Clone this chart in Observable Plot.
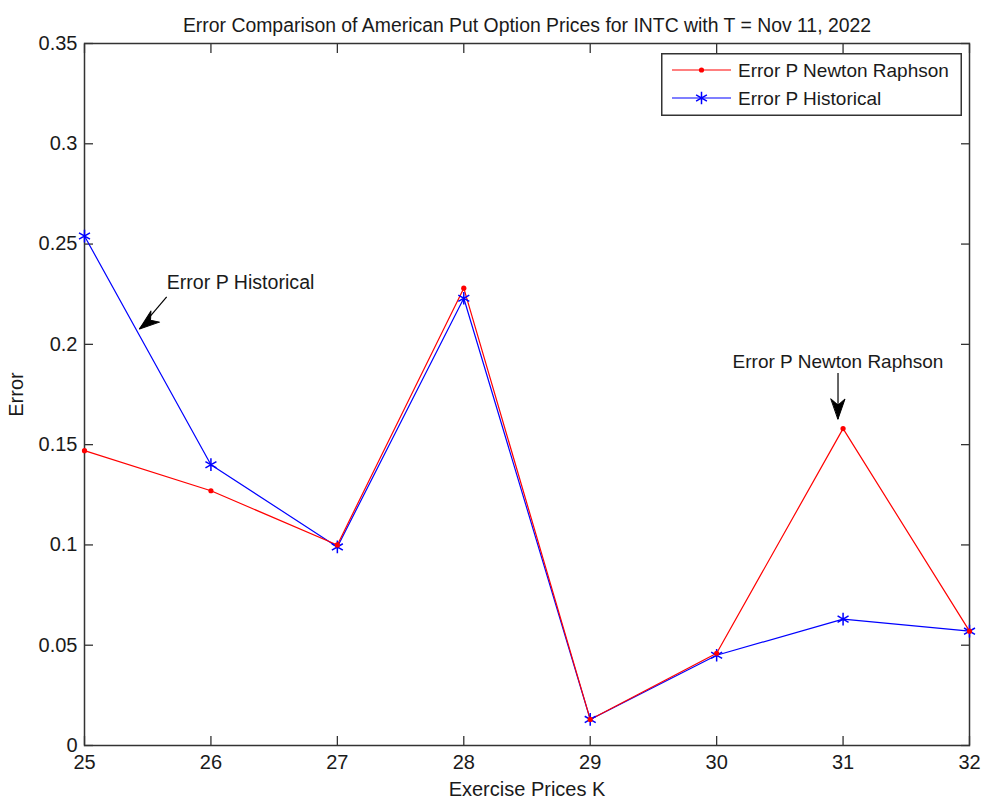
<!DOCTYPE html>
<html><head><meta charset="utf-8">
<script src="https://cdn.jsdelivr.net/npm/d3@7"></script>
<script src="https://cdn.jsdelivr.net/npm/@observablehq/plot@0.6"></script>
<style>
body{margin:0;background:#fff;font-family:"Liberation Sans",Arial,sans-serif;}
#wrap{position:relative;width:981px;height:798px;}
#legend{position:absolute;left:661px;top:53px;}
</style></head><body><div id="wrap"></div>
<script>
const strikes = [25, 26, 27, 28, 29, 30, 31, 32];
const errNewton = [0.147, 0.127, 0.100, 0.228, 0.013, 0.046, 0.158, 0.057];
const errHist = [0.254, 0.140, 0.099, 0.223, 0.013, 0.045, 0.063, 0.057];
const xTicks = [25, 26, 27, 28, 29, 30, 31, 32];
const yTicks = [0, 0.05, 0.1, 0.15, 0.2, 0.25, 0.3, 0.35];
const seriesNames = ["Error P Newton Raphson", "Error P Historical"];
const seriesColors = ["#ff0000", "#0000ff"];
const titleText = "Error Comparison of American Put Option Prices for INTC with T = Nov 11, 2022";
const xLabel = "Exercise Prices K";
const yLabel = "Error";
const annotations = [
  {label: "Error P Historical", tx: 25.65, ty: 0.2307, x1: 25.65, y1: 0.2237, x2: 25.435, y2: 0.2077, rot: 232, anchor: "start"},
  {label: "Error P Newton Raphson", tx: 30.96, ty: 0.1912, x1: 30.96, y1: 0.1857, x2: 30.96, y2: 0.1628, rot: 180, anchor: "middle"}
];

const newton = strikes.map((k, i) => ({k, e: errNewton[i]}));
const hist = strikes.map((k, i) => ({k, e: errHist[i]}));
const fmt = d => String(+d.toFixed(2));

const arrowHead = {
  draw(ctx, l) {
    const w = 7;
    ctx.moveTo(0, -l);
    ctx.lineTo(-w, 0);
    ctx.lineTo(0, -l * 0.3);
    ctx.lineTo(w, 0);
    ctx.closePath();
  }
};

const FS = 18;
const chart = Plot.plot({
  width: 981,
  height: 798,
  marginTop: 43,
  marginBottom: 53,
  marginLeft: 84,
  marginRight: 12,
  style: {fontFamily: '"Liberation Sans", Arial, sans-serif', fontSize: FS + "px", color: "#1a1a1a", background: "white"},
  x: {domain: [25, 32], ticks: xTicks},
  y: {domain: [0, 0.35], ticks: yTicks},
  marks: [
    Plot.frame({stroke: "#333", strokeWidth: 1.5}),
    Plot.axisX({anchor: "bottom", ticks: xTicks, tickSize: -9, tickPadding: 18, tickFormat: fmt, stroke: "#333", strokeWidth: 1.3,
      label: xLabel, labelAnchor: "center", labelArrow: "none", labelOffset: 50, fontSize: 20}),
    Plot.axisX({anchor: "top", ticks: xTicks, tickSize: -9, tickFormat: () => "", stroke: "#333", strokeWidth: 1.3, label: null}),
    Plot.axisY({anchor: "left", ticks: yTicks, tickSize: -9, tickPadding: 16, tickFormat: fmt, stroke: "#333", strokeWidth: 1.3,
      label: yLabel, labelAnchor: "center", labelArrow: "none", labelOffset: 76, fontSize: 20}),
    Plot.axisY({anchor: "right", ticks: yTicks, tickSize: -9, tickFormat: () => "", stroke: "#333", strokeWidth: 1.3, label: null}),
    Plot.line(hist, {x: "k", y: "e", stroke: seriesColors[1], strokeWidth: 1.2}),
    Plot.line(newton, {x: "k", y: "e", stroke: seriesColors[0], strokeWidth: 1.2}),
    Plot.dot(hist, {x: "k", y: "e", symbol: "asterisk", r: 6, stroke: seriesColors[1], strokeWidth: 1.5}),
    Plot.dot(newton, {x: "k", y: "e", symbol: "circle", r: 2.6, fill: seriesColors[0], stroke: null}),
    Plot.link(annotations, {x1: "x1", y1: "y1", x2: "x2", y2: "y2", stroke: "black", strokeWidth: 1.2}),
    Plot.vector(annotations, {x: "x2", y: "y2", rotate: "rot", length: 20, anchor: "end", shape: arrowHead, fill: "black", stroke: "black", strokeWidth: 1}),
    Plot.text(annotations.filter(a => a.anchor === "start"), {x: "tx", y: "ty", text: "label", textAnchor: "start", fontSize: 19.6, fill: "#1a1a1a"}),
    Plot.text(annotations.filter(a => a.anchor === "middle"), {x: "tx", y: "ty", text: "label", textAnchor: "middle", fontSize: 19, fill: "#1a1a1a"}),
    Plot.text([titleText], {frameAnchor: "top", dy: -25, text: d => d, fontSize: 19.4, fill: "#1a1a1a"})
  ]
});
const wrap = document.getElementById("wrap");
wrap.appendChild(chart);

// Legend overlay
const lg = d3.select(wrap).append("svg").attr("id", "legend").attr("width", 301).attr("height", 63)
  .style("font-family", '"Liberation Sans", Arial, sans-serif').style("font-size", "19px");
lg.append("rect").attr("x", 0.75).attr("y", 0.75).attr("width", 299.5).attr("height", 61.5)
  .attr("fill", "white").attr("stroke", "#333").attr("stroke-width", 1.5);
seriesNames.forEach((name, i) => {
  const y = 17 + i * 28;
  lg.append("line").attr("x1", 11).attr("x2", 70).attr("y1", y).attr("y2", y)
    .attr("stroke", seriesColors[i]).attr("stroke-width", 1.2);
  if (i === 0) {
    lg.append("circle").attr("cx", 40.5).attr("cy", y).attr("r", 2.6).attr("fill", seriesColors[i]);
  } else {
    lg.append("path").attr("d", d3.symbol(d3.symbolAsterisk, 110)()).attr("transform", `translate(40.5,${y})`)
      .attr("fill", "none").attr("stroke", seriesColors[i]).attr("stroke-width", 1.5);
  }
  lg.append("text").attr("x", 77).attr("y", y).attr("dy", "0.35em").attr("fill", "#1a1a1a").text(name);
});
</script>
</body></html>
